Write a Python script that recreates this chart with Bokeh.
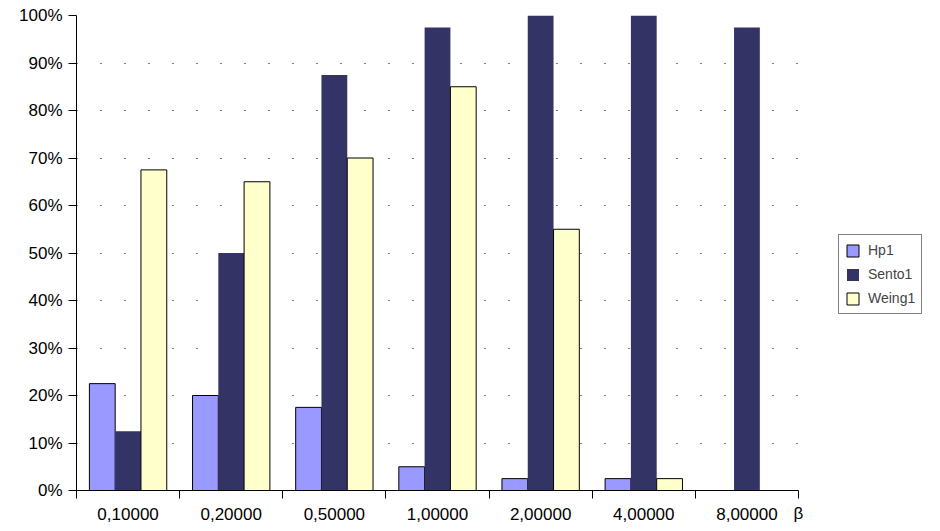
from bokeh.plotting import figure
from bokeh.models import (ColumnDataSource, FixedTicker, NumeralTickFormatter, Range1d,
                          Legend, LegendItem)
from bokeh.embed import file_html
from bokeh.resources import INLINE

categories = ["0,10000", "0,20000", "0,50000", "1,00000", "2,00000", "4,00000", "8,00000"]
series_names = ["Hp1", "Sento1", "Weing1"]
hp1 = [0.225, 0.20, 0.175, 0.05, 0.025, 0.025, 0.0]
sento1 = [0.125, 0.50, 0.875, 0.975, 1.00, 1.00, 0.975]
weing1 = [0.675, 0.65, 0.70, 0.85, 0.55, 0.025, 0.0]
colors = ["#9999FF", "#333366", "#FFFFCC"]
y_ticks = [i / 10 for i in range(11)]

n = len(categories)
centers = [i + 0.5 for i in range(n)]

p = figure(frame_width=722, frame_height=475, output_backend="svg", toolbar_location=None,
           x_range=Range1d(0, n), y_range=Range1d(0, 1),
           min_border_left=76, min_border_right=142, min_border_top=15, min_border_bottom=41)
p.outline_line_color = None
p.background_fill_color = "white"
p.border_fill_color = "white"

p.xgrid.grid_line_color = None
p.ygrid.grid_line_color = "black"
p.ygrid.grid_line_dash = "1 23"
p.ygrid.grid_line_width = 1

p.yaxis.ticker = FixedTicker(ticks=y_ticks)
p.yaxis.formatter = NumeralTickFormatter(format="0%")
p.yaxis.major_tick_out = 8
p.yaxis.major_tick_in = 0
p.yaxis.minor_tick_line_color = None
p.yaxis.major_label_standoff = 6

p.xaxis.ticker = FixedTicker(ticks=centers, minor_ticks=list(range(n + 1)))
p.xaxis.major_label_overrides = {c: lab for c, lab in zip(centers, categories)}
p.xaxis.major_tick_out = 0
p.xaxis.major_tick_in = 0
p.xaxis.minor_tick_out = 8
p.xaxis.minor_tick_in = 0
p.xaxis.major_label_standoff = 9
p.xaxis.axis_label = "β"
p.xaxis.axis_label_align = "end"
p.xaxis.axis_label_standoff = -19
p.xaxis.axis_label_text_font = "Liberation Sans"
p.xaxis.axis_label_text_font_size = "17px"
p.xaxis.axis_label_text_font_style = "normal"
p.xaxis.axis_label_text_color = "black"

for ax in (p.xaxis, p.yaxis):
    ax.axis_line_color = "black"
    ax.major_tick_line_color = "black"
    ax.major_label_text_font = "Liberation Sans"
    ax.major_label_text_font_size = "17px"
    ax.major_label_text_color = "black"
p.xaxis.minor_tick_line_color = "black"

offsets = [-0.25, 0.0, 0.25]
values = [hp1, sento1, weing1]
items = []
for name, vals, col, off in zip(series_names, values, colors, offsets):
    src = ColumnDataSource(dict(x=[c + off for c in centers], top=vals))
    r = p.vbar(x="x", top="top", bottom=0, width=0.25, source=src,
               fill_color=col, line_color="black",
               line_alpha=0.0 if name == "Sento1" else 1.0, line_width=1)
    items.append(LegendItem(label=name, renderers=[r]))

legend = Legend(items=items, location=(40, 176), border_line_color="black",
                border_line_width=1, label_text_font="Liberation Sans",
                label_text_font_size="14px", glyph_width=15, glyph_height=15,
                label_height=18, spacing=6, padding=6, margin=0,
                label_standoff=8, background_fill_color="white")
p.add_layout(legend, "right")

open("out.html", "w").write(file_html(p, INLINE))
